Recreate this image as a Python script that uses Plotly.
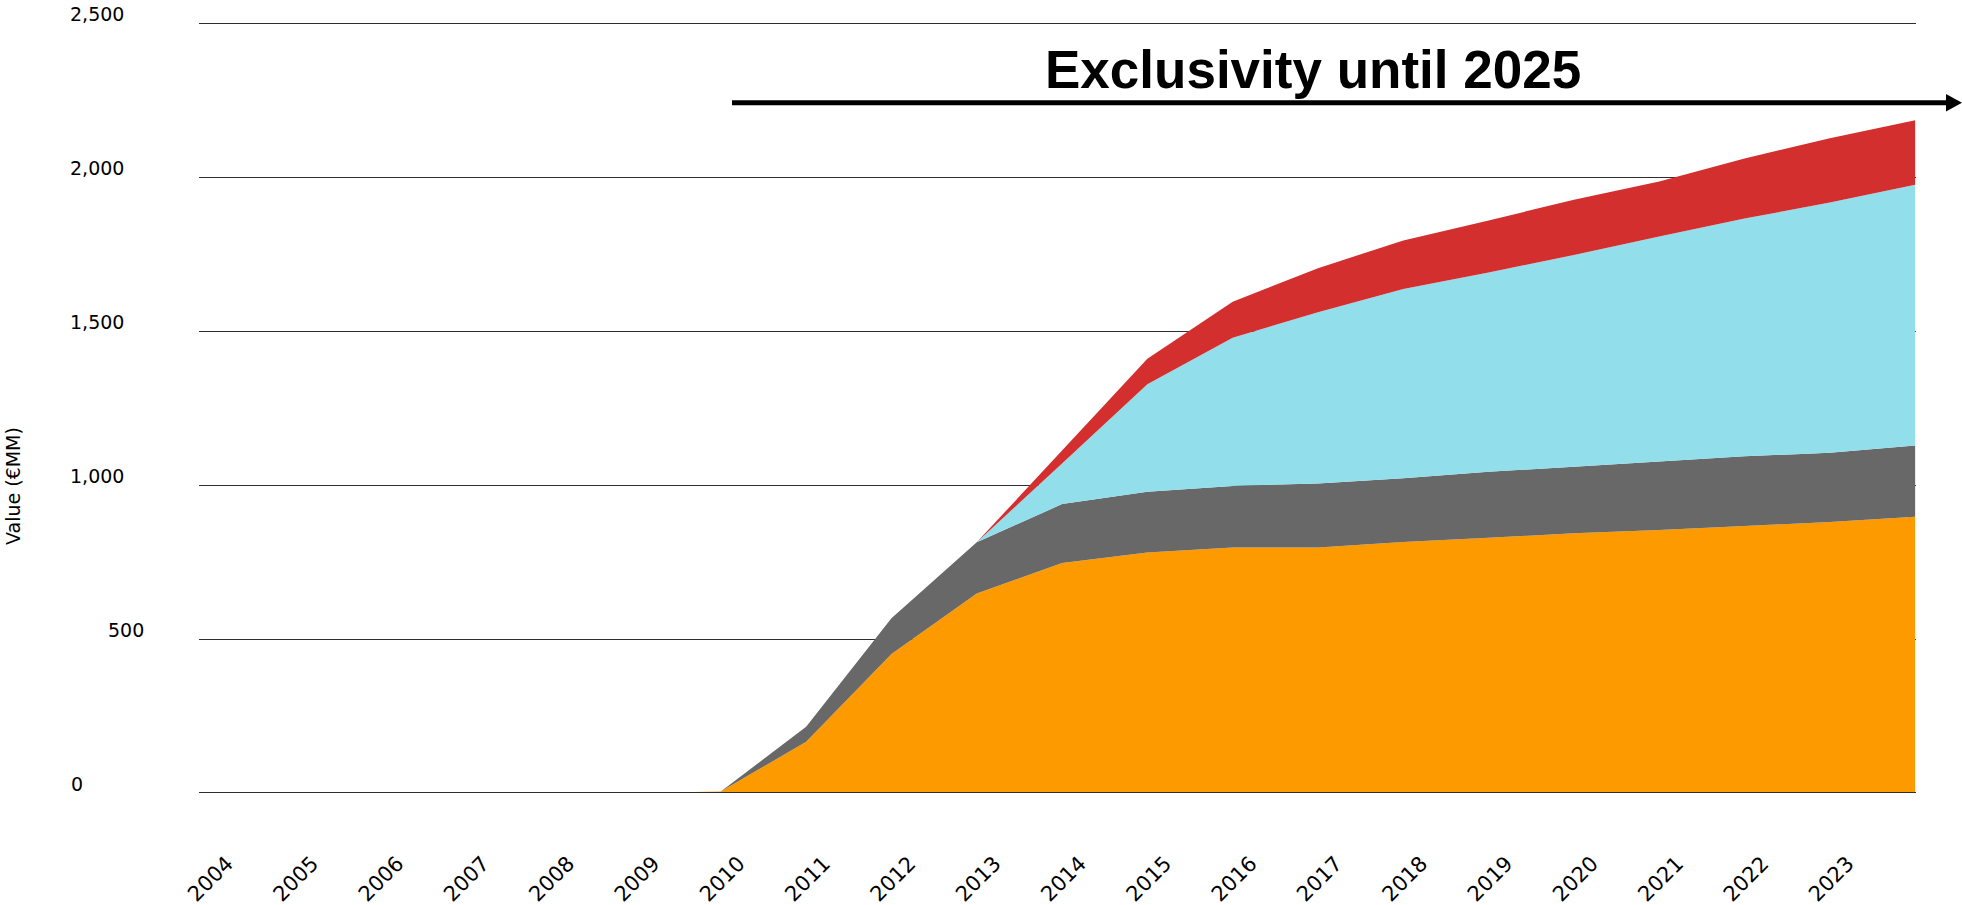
import plotly.graph_objects as go

# Yearly values, EUR millions, stacked bottom to top
years = list(range(2004, 2025))
orange_vals = [0, 0, 0, 0, 0, 0, 5, 166, 451, 648, 747, 781, 797, 797, 815, 829, 843, 854, 867, 880, 897]
gray_vals = [0, 0, 0, 0, 0, 0, 0, 49, 116, 166, 191, 197, 200, 208, 207, 214, 216, 222, 226, 225, 231]
blue_vals = [0, 0, 0, 0, 0, 0, 0, 0, 0, 0, 132, 349, 481, 556, 614, 647, 688, 731, 772, 812, 847]
red_vals = [0, 0, 0, 0, 0, 0, 0, 0, 0, 0, 42, 83, 117, 143, 158, 169, 179, 178, 195, 209, 209]

tick_years = list(range(2004, 2024))
y_ticks = [0, 500, 1000, 1500, 2000, 2500]
y_tick_text = ["0", "500", "1,000", "1,500", "2,000", "2,500"]

W, H = 1962, 905
ML, MR, MT, MB = 199, 46, 23, 112
PW, PH = W - ML - MR, H - MT - MB
GRID = "#2E2E2E"


def px_x(px):
    return (px - ML) / PW


def px_y(py):
    return (H - MB - py) / PH


fig = go.Figure()
for vals, color in [(orange_vals, "#FC9A00"), (gray_vals, "#686868"),
                    (blue_vals, "#92DEEB"), (red_vals, "#D32F2F")]:
    fig.add_trace(go.Scatter(x=years, y=vals, stackgroup="one", mode="none",
                             fillcolor=color, hoverinfo="x+y"))

annotations = []
# value labels sit just above their gridlines, each with its own left edge
label_left = {"0": 69, "500": 106, "1,000": 68, "1,500": 68, "2,000": 68, "2,500": 68}
for v, t in zip(y_ticks, y_tick_text):
    annotations.append(dict(x=px_x(label_left[t]), xref="paper", y=v, yref="y",
                            xanchor="left", yanchor="middle", yshift=9,
                            text=t, showarrow=False,
                            font=dict(family="DejaVu Sans", size=19, color="#000")))

annotations.append(dict(x=px_x(13), xref="paper", y=px_y(486), yref="paper",
                        text="Value (€MM)", textangle=-90, showarrow=False,
                        xanchor="center", yanchor="middle",
                        font=dict(family="DejaVu Sans", size=19, color="#000")))

annotations.append(dict(x=px_x(1313), xref="paper", y=px_y(70), yref="paper",
                        text="<b>Exclusivity until 2025</b>", showarrow=False,
                        xanchor="center", yanchor="middle",
                        font=dict(family="Liberation Sans", size=53, color="#000")))

shapes = [
    # top gridline (under the areas) and baseline (over them), pixel-aligned
    dict(type="line", xref="paper", yref="paper", x0=0, x1=1,
         y0=px_y(MT + 0.5), y1=px_y(MT + 0.5), layer="below",
         line=dict(color=GRID, width=1)),
    dict(type="line", xref="paper", yref="paper", x0=0, x1=1,
         y0=px_y(H - MB - 0.5), y1=px_y(H - MB - 0.5), layer="above",
         line=dict(color=GRID, width=1)),
    # exclusivity arrow
    dict(type="line", xref="paper", yref="paper",
         x0=px_x(732), x1=px_x(1948), y0=px_y(102.7), y1=px_y(102.7),
         line=dict(color="#000", width=5)),
    dict(type="path", xref="paper", yref="paper",
         path=f"M {px_x(1946)} {px_y(94)} L {px_x(1962)} {px_y(102.7)} "
              f"L {px_x(1946)} {px_y(111.4)} Z",
         fillcolor="#000", line=dict(width=0)),
]

fig.update_layout(
    width=W, height=H,
    margin=dict(l=ML, r=MR, t=MT, b=MB, autoexpand=False),
    paper_bgcolor="white", plot_bgcolor="white",
    showlegend=False,
    annotations=annotations,
    shapes=shapes,
    xaxis=dict(range=[2003.883, 2024.01], tickvals=tick_years,
               ticktext=[str(y) for y in tick_years], tickangle=-45,
               showgrid=False, zeroline=False, showline=False, ticks="",
               ticklabelshift=18, ticklabelstandoff=53,
               tickfont=dict(family="DejaVu Sans", size=21, color="#000")),
    yaxis=dict(range=[0, 2500], tickvals=y_ticks, showticklabels=False,
               showgrid=True, gridcolor=GRID, gridwidth=1,
               zeroline=False, showline=False, ticks=""),
)

fig.write_html("out.html")
